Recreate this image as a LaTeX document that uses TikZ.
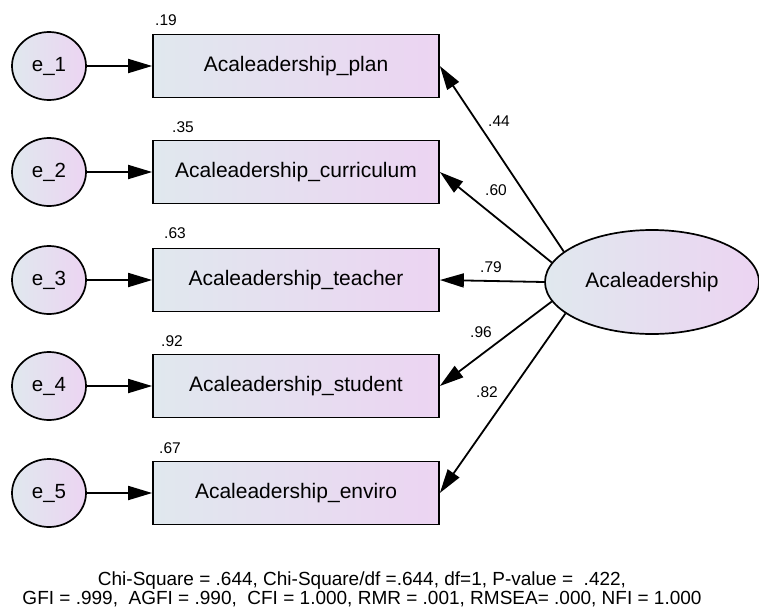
\documentclass[tikz,border=0pt]{standalone}
\usepackage{fontspec}
\setmainfont{Liberation Sans}
\usetikzlibrary{arrows.meta,shapes.geometric}
\definecolor{shadeA}{RGB}{224,232,238}
\definecolor{shadeB}{RGB}{236,212,242}
\begin{document}
\begin{tikzpicture}[x=1pt,y=-1pt,
  errvar/.style={ellipse, draw, line width=1.7pt, minimum width=74pt, minimum height=68pt,
    inner sep=0pt, left color=shadeA, right color=shadeB, font=\fontsize{20.5}{24}\selectfont},
  obsvar/.style={rectangle, draw, line width=1.7pt, minimum width=286pt, minimum height=63pt,
    inner sep=0pt, left color=shadeA, right color=shadeB, font=\fontsize{21}{25}\selectfont},
  latvar/.style={ellipse, draw, line width=1.7pt, minimum width=214pt, minimum height=104pt,
    inner sep=0pt, left color=shadeA, right color=shadeB, font=\fontsize{21}{25}\selectfont},
  regpath/.style={-{Triangle[length=24pt,width=14pt]}, line width=1.8pt},
  coef/.style={font=\fontsize{15.5}{18}\selectfont, inner sep=0pt},
  fitline/.style={font=\fontsize{19}{22}\selectfont, inner sep=0pt}
]
\useasboundingbox (0,0) rectangle (759,613);

% latent factor
\node[latvar] (lat) at (652,282) {Acaleadership};

% indicators with their error terms
\foreach \i/\y/\name in {1/66/plan, 2/172/curriculum, 3/280/teacher, 4/386/student, 5/493/enviro}{
  \node[obsvar] (o\i) at (296,\y) {Acaleadership\_\name};
  \node[errvar] (e\i) at (49,\y) {e\_\i};
  \draw[regpath] (e\i) -- (o\i);
}

% factor loadings
\draw[regpath] (lat.161) -- (o1.east);
\draw[regpath] (lat.169) -- (o2.east);
\draw[regpath] (lat.180) -- (o3.east);
\draw[regpath] (lat.191) -- (o4.east);
\draw[regpath] (lat.200) -- (o5.east);

% squared multiple correlations
\node[coef] (r1) at (166,20) {.19};
\node[coef] (r2) at (183,127) {.35};
\node[coef] (r3) at (175,233) {.63};
\node[coef] (r4) at (172,341) {.92};
\node[coef] (r5) at (170,448) {.67};

% standardized loadings
\node[coef] (l1) at (499,121) {.44};
\node[coef] (l2) at (496,190) {.60};
\node[coef] (l3) at (491,267) {.79};
\node[coef] (l4) at (481,332) {.96};
\node[coef] (l5) at (487,392) {.82};

% model fit
\node[fitline] (fit1) at (362,581) {Chi-Square = .644, Chi-Square/df =.644, df=1, P-value = \ .422,};
\node[fitline] (fit2) at (362,599) {GFI = .999, \ AGFI = .990, \ CFI = 1.000, RMR = .001, RMSEA= .000, NFI = 1.000};
\end{tikzpicture}
\end{document}
